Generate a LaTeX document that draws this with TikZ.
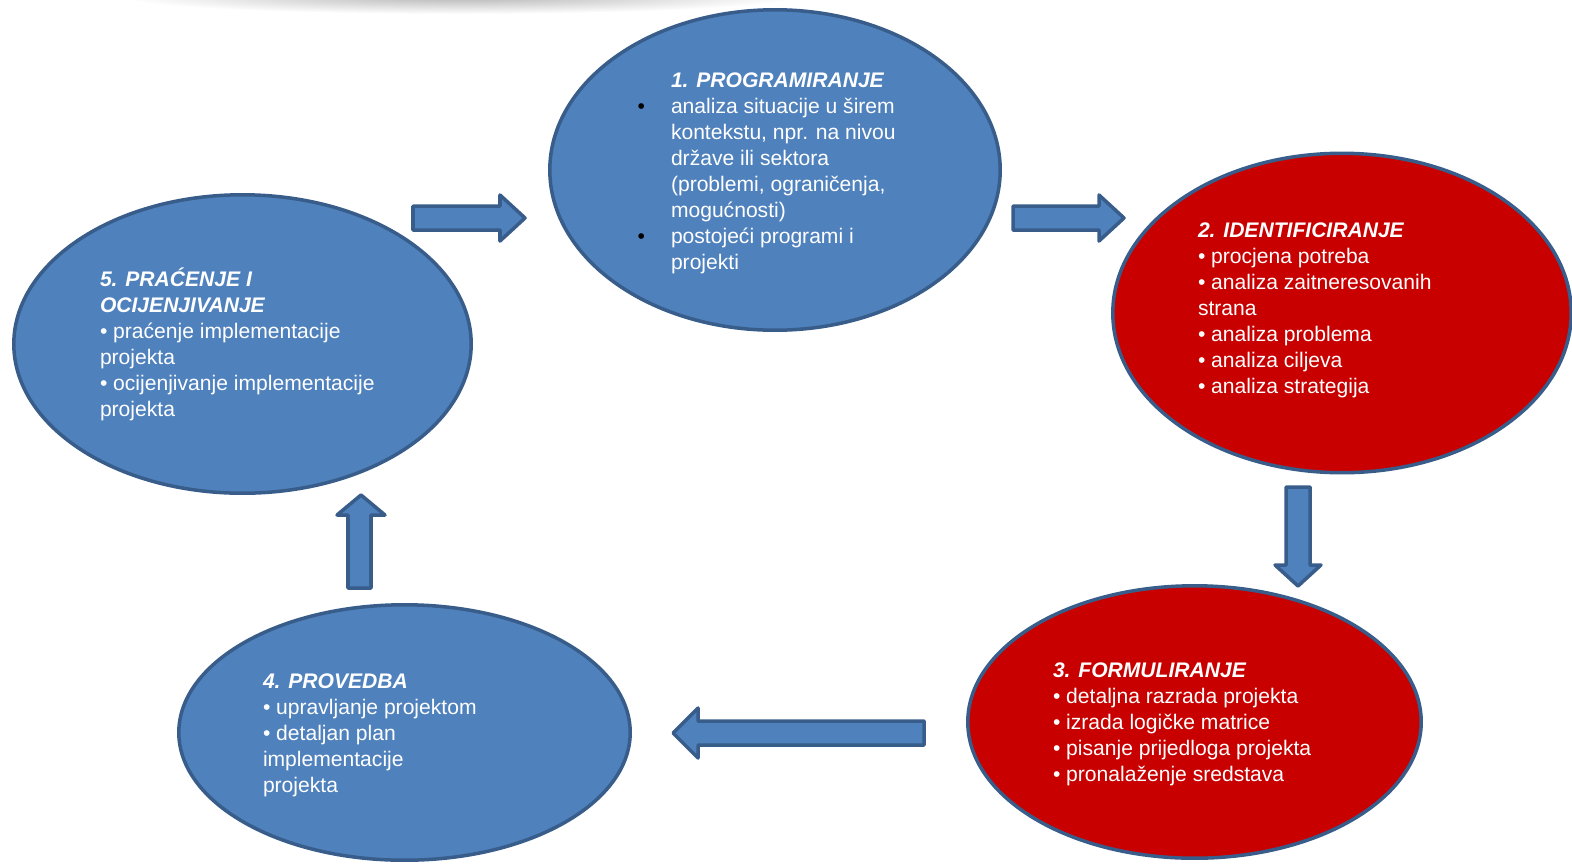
\documentclass[tikz,border=0pt]{standalone}
\usepackage{fontspec}
\setmainfont{Liberation Sans}
\usetikzlibrary{shapes.geometric}
\definecolor{cycleblue}{RGB}{79,129,189}
\definecolor{cycleborder}{RGB}{56,93,138}
\definecolor{cyclered}{RGB}{200,0,0}
\newcommand{\blackbullet}{\llap{\textcolor{black}{•}\hspace{0.52cm}}}
\begin{document}
\begin{tikzpicture}[x=0.02cm, y=-0.02cm,
  every node/.style={inner sep=0pt, outer sep=0pt},
  phase/.style={ellipse, draw=cycleborder, line width=2pt},
  phasetext/.style={anchor=north west, text=white, align=left, font=\fontsize{12}{14.8}\selectfont},
  blockarrow/.style={draw=cycleborder, fill=cycleblue, line width=2pt, line join=round}]
\useasboundingbox (0,0) rectangle (1572,863);

% Shadow along the top edge
\begin{scope}
\clip (0,0) rectangle (1572,863);
\shade[inner color=black!30, outer color=white] (460,-4) ellipse [x radius=340, y radius=18];
\end{scope}

% Phase ellipses
\node[phase, fill=cycleblue, minimum width=9.01cm, minimum height=6.41cm] (prog) at (775,170) {};
\node[phase, fill=cyclered, minimum width=9.17cm, minimum height=6.39cm] (ident) at (1342,313) {};
\node[phase, fill=cyclered, minimum width=9.07cm, minimum height=5.45cm] (form) at (1194.5,722) {};
\node[phase, fill=cycleblue, minimum width=9.03cm, minimum height=5.11cm] (prov) at (404.5,732.5) {};
\node[phase, fill=cycleblue, minimum width=9.15cm, minimum height=5.97cm] (prac) at (242.5,344) {};

% Texts in the ellipses
\node[phasetext] (progtext) at (671,69) {\strut\textbf{\textit{1. PROGRAMIRANJE}}\\
  \blackbullet analiza situacije u širem\\
  kontekstu, npr. na nivou\\
  države ili sektora\\
  (problemi, ograničenja,\\
  mogućnosti)\\
  \blackbullet postojeći programi i\\
  projekti};
\node[phasetext] (identtext) at (1198,219) {\strut\textbf{\textit{2. IDENTIFICIRANJE}}\\
  • procjena potreba\\
  • analiza zaitneresovanih\\
  strana\\
  • analiza problema\\
  • analiza ciljeva\\
  • analiza strategija};
\node[phasetext] (formtext) at (1053,659) {\strut\textbf{\textit{3. FORMULIRANJE}}\\
  • detaljna razrada projekta\\
  • izrada logičke matrice\\
  • pisanje prijedloga projekta\\
  • pronalaženje sredstava};
\node[phasetext] (provtext) at (263,670) {\strut\textbf{\textit{4. PROVEDBA}}\\
  • upravljanje projektom\\
  • detaljan plan\\
  implementacije\\
  projekta};
\node[phasetext] (practext) at (100,268) {\strut\textbf{\textit{5. PRAĆENJE I}}\\
  \textbf{\textit{OCIJENJIVANJE}}\\
  • praćenje implementacije\\
  projekta\\
  • ocijenjivanje implementacije\\
  projekta};

% Block arrows between the phases
\draw[blockarrow] (413,206) -- (500,206) -- (500,195) -- (525,218) -- (500,241) -- (500,230) -- (413,230) -- cycle;
\draw[blockarrow] (1013,206) -- (1099,206) -- (1099,195) -- (1124,218) -- (1099,241) -- (1099,230) -- (1013,230) -- cycle;
\draw[blockarrow] (1286,487) -- (1310,487) -- (1310,565) -- (1321,565) -- (1298,586) -- (1275,565) -- (1286,565) -- cycle;
\draw[blockarrow] (924,721) -- (698,721) -- (698,708) -- (673,733) -- (698,758) -- (698,745) -- (924,745) -- cycle;
\draw[blockarrow] (348,588) -- (348,515) -- (337,515) -- (361,495) -- (385,515) -- (371,515) -- (371,588) -- cycle;
\end{tikzpicture}
\end{document}
